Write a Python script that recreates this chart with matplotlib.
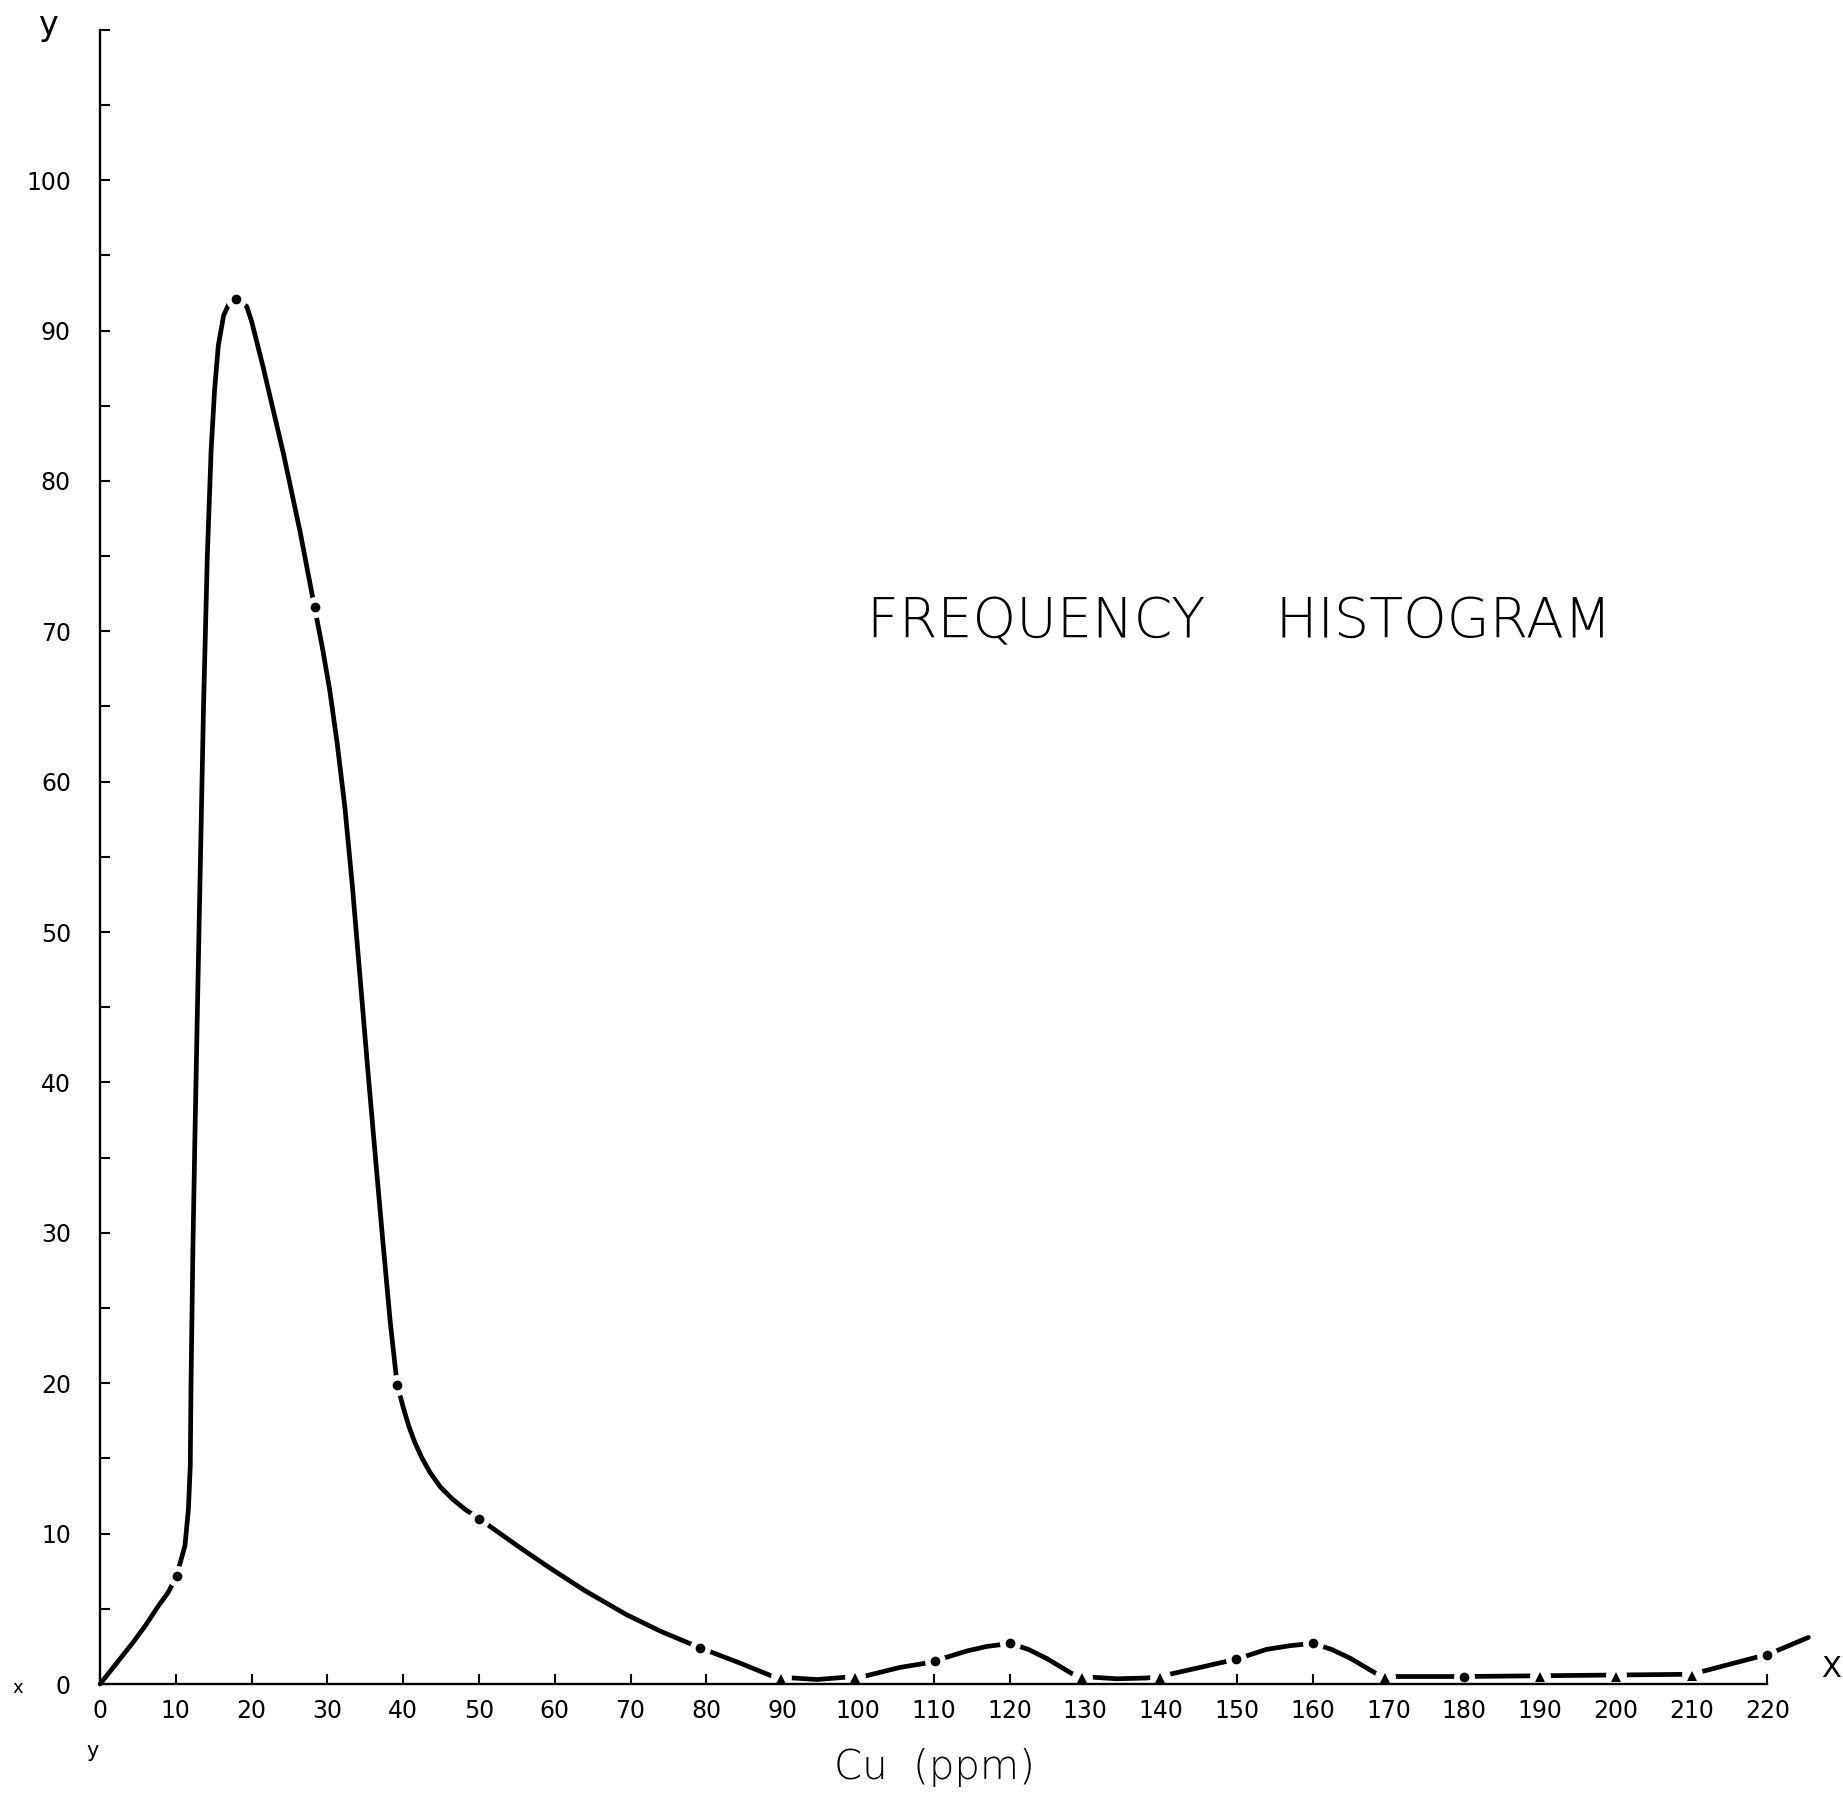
"""
Frequency histogram of Cu (ppm), hand-drafted style.
"""

import matplotlib

matplotlib.use("Agg")
import matplotlib.pyplot as plt
import numpy as np

plt.rcParams["font.family"] = ["DejaVu Sans"]

# curve trace (Cu ppm, frequency)
curve_x = [0, 2.2, 4.4, 6.0, 7.7, 9.0, 10.1, 11.2, 11.65, 11.9, 12.0, 12.25,
           12.5, 12.85, 13.25, 13.65, 14.15, 14.65, 15.1, 15.6, 16.3, 17.2,
           17.9, 19.35, 20.0, 21.5, 24.2, 26.4, 28.3, 29.3, 30.3, 31.3, 32.3,
           33.3, 34.3, 35.3, 36.3, 37.3, 38.3, 39.2, 40.0, 40.7, 41.5, 42.4,
           43.5, 44.9, 46.5, 48.2, 50.0, 52.8, 55.6, 59.4, 64.0, 69.5, 74.0,
           79.2, 84.4, 88.8, 89.9, 94.6, 99.6, 101.1, 105.5, 109.1, 110.2,
           114.4, 117.0, 120.1, 122.5, 124.9, 128.2, 129.5, 134.1, 138.1,
           139.8, 145.1, 149.9, 153.9, 157.0, 160.0, 162.5, 165.0, 168.7,
           169.6, 180, 190, 200, 210, 218.7, 220, 225.4]
curve_y = [0, 1.4, 2.8, 3.9, 5.2, 6.1, 7.2, 9.2, 11.6, 14.5, 20.0, 29.0,
           36.0, 45.0, 55.0, 65.0, 75.0, 82.0, 86.0, 89.0, 91.0, 92.0,
           92.1, 91.6, 90.6, 87.6, 81.8, 76.6, 71.6, 69.0, 66.1, 62.5, 58.3,
           53.0, 47.0, 41.0, 35.2, 29.5, 24.0, 19.9, 18.4, 17.2, 16.1, 15.1,
           14.1, 13.1, 12.3, 11.6, 11.0, 10.0, 9.0, 7.7, 6.2, 4.6, 3.5,
           2.4, 1.4, 0.5, 0.45, 0.3, 0.5, 0.55, 1.1, 1.4, 1.55,
           2.2, 2.5, 2.7, 2.3, 1.7, 0.7, 0.5, 0.35, 0.4,
           0.5, 1.1, 1.65, 2.3, 2.55, 2.7, 2.3, 1.7, 0.6,
           0.5, 0.5, 0.55, 0.6, 0.65, 1.8, 1.95, 3.1]

# plotted points (dots on the curve)
dot_x = [10.1, 17.9, 28.3, 39.2, 50.0, 79.2, 110.2, 120.1, 149.9, 160.0, 180, 220]
dot_y = [7.2, 92.1, 71.6, 19.9, 11.0, 2.4, 1.55, 2.7, 1.65, 2.7, 0.5, 1.95]
# points sitting on the axis, drawn as small triangles
tri_x = [89.9, 99.6, 129.5, 139.8, 169.6, 190, 200, 210]
tri_y = [0.45, 0.5, 0.5, 0.5, 0.5, 0.55, 0.6, 0.65]

x_ticks = list(range(0, 221, 10))
y_ticks = list(range(0, 111, 5))
y_labels = [str(v) if v % 10 == 0 and v <= 100 else "" for v in y_ticks]

fig = plt.figure(figsize=(18.43, 17.94), dpi=100)
ax = fig.add_axes([0.0543, 0.0613, 0.9376, 0.9305])

ax.plot(curve_x, curve_y, color="black", lw=3.4, solid_capstyle="round",
        solid_joinstyle="round", zorder=2, clip_on=False)
# white rings leave the small gaps around each point, as in the drawing
gap_x = dot_x + tri_x
gap_y = dot_y + tri_y
ax.plot(gap_x, gap_y, "o", color="white", ms=15, mew=0, zorder=3, clip_on=False)
ax.plot(dot_x, dot_y, "o", color="black", ms=7, mew=0, zorder=4, clip_on=False)
ax.plot(tri_x, np.array(tri_y) - 0.1, "^", color="black", ms=7.5, mew=0,
        zorder=4, clip_on=False)

ax.set_xlim(0, 228)
ax.set_ylim(0, 111)
for side in ["top", "right"]:
    ax.spines[side].set_visible(False)
ax.spines["left"].set_bounds(0, 110)
ax.spines["bottom"].set_bounds(0, 220)
for side in ["left", "bottom"]:
    ax.spines[side].set_linewidth(1.7)
    ax.spines[side].set_zorder(3.5)

ax.set_xticks(x_ticks)
ax.set_xticklabels([str(v) for v in x_ticks])
ax.set_yticks(y_ticks)
ax.set_yticklabels(y_labels)
ax.tick_params(axis="both", direction="in", length=7.5, width=1.5,
               labelsize=17, colors="black")
ax.tick_params(axis="x", pad=11)
ax.tick_params(axis="y", pad=21)

ax.text(0.6725, 0.653, "FREQUENCY    HISTOGRAM", transform=fig.transFigure,
        fontsize=40, fontweight="light", ha="center", va="center")
ax.text(0.507, 0.0145, "Cu  (ppm)", transform=fig.transFigure,
        fontsize=29, fontweight="light", ha="center", va="center")
ax.text(0.026, 0.986, "y", transform=fig.transFigure, fontsize=24,
        ha="center", va="center")
ax.text(0.9935, 0.0695, "X", transform=fig.transFigure, fontsize=21,
        ha="center", va="center")
ax.text(0.0098, 0.059, "x", transform=fig.transFigure, fontsize=13,
        ha="center", va="center")
ax.text(0.05, 0.024, "y", transform=fig.transFigure, fontsize=15,
        ha="center", va="center")

fig.savefig("out.png", dpi=100)
plt.close(fig)
